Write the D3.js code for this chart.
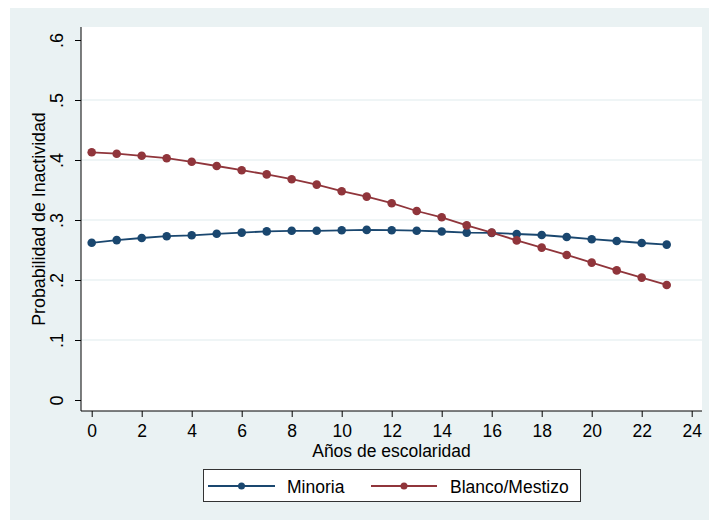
<!DOCTYPE html>
<html>
<head>
<meta charset="utf-8">
<script src="https://cdn.jsdelivr.net/npm/d3@7"></script>
<style>
  body { margin: 0; background: #fff; }
  svg { display: block; font-family: "Liberation Sans", Arial, sans-serif; }
</style>
</head>
<body>
<svg id="chart" width="709" height="520"></svg>
<script>
// years of schooling
const years = d3.range(0, 24);
const minoria = [0.262, 0.2665, 0.270, 0.273, 0.2745, 0.277, 0.279, 0.281, 0.282, 0.282,
                 0.2828, 0.2835, 0.283, 0.2822, 0.2808, 0.279, 0.2785, 0.2767, 0.275, 0.2717,
                 0.268, 0.265, 0.2617, 0.259];
const blanco = [0.4128, 0.4105, 0.407, 0.403, 0.397, 0.390, 0.383, 0.376, 0.368, 0.359,
                0.348, 0.339, 0.328, 0.315, 0.3045, 0.291, 0.279, 0.266, 0.254, 0.2417,
                0.229, 0.216, 0.204, 0.1917];
const xTicks = [0, 2, 4, 6, 8, 10, 12, 14, 16, 18, 20, 22, 24];
const yTicks = [0, 0.1, 0.2, 0.3, 0.4, 0.5, 0.6];
const seriesNames = ["Minoria", "Blanco/Mestizo"];
const colors = ["#1a476f", "#90353b"];

const svg = d3.select("#chart");
const plot = { left: 81, right: 702, top: 27, bottom: 411 };
const font = "Liberation Sans, Arial, sans-serif";

// outer graph region
svg.append("rect")
    .attr("x", 10).attr("y", 8)
    .attr("width", 699).attr("height", 512)
    .attr("fill", "#eaf2f3");

svg.append("rect")
    .attr("x", plot.left).attr("y", plot.top)
    .attr("width", plot.right - plot.left).attr("height", plot.bottom - plot.top)
    .attr("fill", "#fff");

const x = d3.scaleLinear().domain([0, 24]).range([91.7, 691.7]);
const y = d3.scaleLinear().domain([0, 0.6]).range([400, 40]);

// gridlines
svg.append("g")
    .selectAll("line")
    .data(yTicks.filter(d => d > 0 && d < 0.6))
    .enter()
    .append("line")
    .attr("x1", plot.left).attr("x2", plot.right)
    .attr("y1", d => y(d)).attr("y2", d => y(d))
    .attr("stroke", "#eaf2f3")
    .attr("stroke-width", 1.5);

// y axis
const yAxis = svg.append("g")
    .attr("transform", "translate(" + plot.left + ",0)")
    .call(d3.axisLeft(y).tickValues(yTicks).tickSize(6).tickSizeOuter(0)
        .tickFormat(d => d === 0 ? "0" : d3.format(".1f")(d).replace(/^0/, "")));
yAxis.select(".domain").attr("d", "M0," + plot.top + "V" + plot.bottom).attr("stroke", "#000");
yAxis.selectAll(".tick line").attr("stroke", "#000");
yAxis.selectAll(".tick text")
    .attr("font-size", 18)
    .attr("fill", "#000")
    .attr("font-family", font)
    .attr("text-anchor", "middle")
    .attr("dy", 0)
    .attr("x", 0)
    .attr("transform", "translate(-18.5,0) rotate(-90)");

// x axis
const xAxis = svg.append("g")
    .attr("transform", "translate(0," + plot.bottom + ")")
    .call(d3.axisBottom(x).tickValues(xTicks).tickSize(6).tickSizeOuter(0));
xAxis.select(".domain").attr("d", "M" + plot.left + ",0H" + plot.right).attr("stroke", "#000");
xAxis.selectAll(".tick line").attr("stroke", "#000");
xAxis.selectAll(".tick text")
    .attr("font-size", 17.5)
    .attr("fill", "#000")
    .attr("font-family", font)
    .attr("y", 26)
    .attr("dy", 0);

// axis titles
svg.append("text")
    .attr("x", (plot.left + plot.right) / 2)
    .attr("y", 457)
    .attr("text-anchor", "middle")
    .attr("font-size", 17.5)
    .text("Años de escolaridad");

svg.append("text")
    .attr("transform", "translate(45," + (plot.top + plot.bottom) / 2 + ") rotate(-90)")
    .attr("text-anchor", "middle")
    .attr("font-size", 17.8)
    .text("Probabilidad de Inactividad");

// series
const line = d3.line()
    .x((d, i) => x(years[i]))
    .y(d => y(d));

[minoria, blanco].forEach(function(values, k) {
    svg.append("path")
        .datum(values)
        .attr("d", line)
        .attr("fill", "none")
        .attr("stroke", colors[k])
        .attr("stroke-width", 1.8);
    svg.append("g")
        .selectAll("circle")
        .data(values)
        .enter()
        .append("circle")
        .attr("cx", (d, i) => x(years[i]))
        .attr("cy", d => y(d))
        .attr("r", 4.3)
        .attr("fill", colors[k]);
});

// legend
const legend = svg.append("g");
legend.append("rect")
    .attr("x", 203.5).attr("y", 469.5)
    .attr("width", 377).attr("height", 32)
    .attr("fill", "#fff")
    .attr("stroke", "#333")
    .attr("stroke-width", 1);

const legendPos = [{ x1: 208, x2: 275, tx: 287 }, { x1: 371, x2: 437, tx: 450 }];
seriesNames.forEach(function(name, k) {
    const p = legendPos[k];
    legend.append("line")
        .attr("x1", p.x1).attr("x2", p.x2)
        .attr("y1", 486).attr("y2", 486)
        .attr("stroke", colors[k])
        .attr("stroke-width", 1.8);
    legend.append("circle")
        .attr("cx", (p.x1 + p.x2) / 2).attr("cy", 486)
        .attr("r", 3.5)
        .attr("fill", colors[k]);
    legend.append("text")
        .attr("x", p.tx).attr("y", 493)
        .attr("font-size", 17.5)
        .text(name);
});
</script>
</body>
</html>
